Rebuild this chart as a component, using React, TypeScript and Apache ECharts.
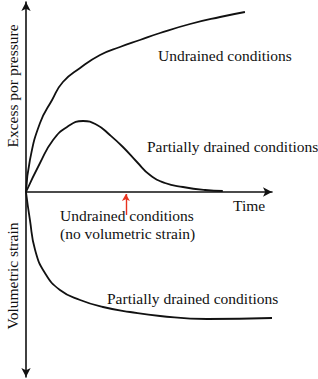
import React, { useEffect, useRef } from "react";
import * as echarts from "echarts";

// Time axis: 0..100 (arbitrary units); vertical axis: excess pore pressure (up) / volumetric strain (down)
const undrainedPressure: [number, number][] = [
  [0, 0], [1.6, 32], [5.7, 69], [10.6, 92], [15, 110], [22, 124], [30.1, 137],
  [38.2, 145], [46.3, 152], [54.5, 159], [66.7, 168], [78.9, 175], [89, 180],
];
const partialPressure: [number, number][] = [
  [0, 0], [5.7, 29], [11, 52], [16.7, 65], [23.2, 71], [28.9, 67], [34.1, 57],
  [39.4, 45], [45.1, 30], [50.4, 17], [56.5, 9], [63.8, 5], [72.8, 2], [80, 1],
];
const partialStrain: [number, number][] = [
  [0, 0], [1.6, -28], [3.7, -58], [7.7, -81], [13.8, -98], [22, -108], [31.3, -115],
  [42.3, -120], [54.5, -124], [73.6, -127], [100, -126],
];
const undrainedStrainMarker = { x: 40.6, from: -23, to: -2 };

const labels = {
  yUp: "Excess por pressure",
  yDown: "Volumetric strain",
  xName: "Time",
  undrainedTop: "Undrained conditions",
  partialTop: "Partially drained conditions",
  undrainedBottom1: "Undrained conditions",
  undrainedBottom2: "(no volumetric strain)",
  partialBottom: "Partially drained conditions",
};

const FONT = "15.5px 'Liberation Serif', 'Times New Roman', serif";

export default function App() {
  const ref = useRef<HTMLDivElement>(null);
  useEffect(() => {
    if (!ref.current) return;
    const chart = echarts.init(ref.current, undefined, { renderer: "svg" });
    const lineStyle = { color: "#111", width: 1.8 };
    const txt = (text: string, x: number, y: number, extra: any = {}) => ({
      type: "text",
      x,
      y,
      ...extra,
      style: { text, font: FONT, fill: "#111", textAlign: "left", textVerticalAlign: "middle", ...(extra.style || {}) },
    });
    chart.setOption({
      animation: false,
      grid: { left: 26, top: 2, width: 246, height: 375 },
      xAxis: {
        type: "value",
        min: 0,
        max: 100,
        axisLine: { show: true, onZero: true, symbol: ["none", "arrow"], symbolSize: [7, 9], lineStyle: { color: "#111", width: 1.6 } },
        axisTick: { show: false },
        axisLabel: { show: false },
        splitLine: { show: false },
      },
      yAxis: {
        type: "value",
        min: -185,
        max: 190,
        axisLine: { show: true, onZero: false, symbol: ["arrow", "arrow"], symbolSize: [7, 9], lineStyle: { color: "#111", width: 1.6 } },
        axisTick: { show: false },
        axisLabel: { show: false },
        splitLine: { show: false },
      },
      series: [
        { type: "line", data: undrainedPressure, smooth: 0.5, showSymbol: false, lineStyle },
        { type: "line", data: partialPressure, smooth: 0.5, showSymbol: false, lineStyle },
        {
          type: "line",
          data: partialStrain,
          smooth: 0.5,
          showSymbol: false,
          lineStyle,
          markLine: {
            silent: true,
            symbol: ["none", "arrow"],
            symbolSize: [6, 7],
            label: { show: false },
            lineStyle: { color: "#e8321e", width: 1.4, type: "solid" },
            data: [[
              { coord: [undrainedStrainMarker.x, undrainedStrainMarker.from] },
              { coord: [undrainedStrainMarker.x, undrainedStrainMarker.to] },
            ]],
          },
        },
      ],
      graphic: [
        txt(labels.undrainedTop, 158, 55),
        txt(labels.partialTop, 147, 146),
        txt(labels.xName, 233, 205),
        txt(labels.undrainedBottom1, 60, 215),
        txt(labels.undrainedBottom2, 60, 233),
        txt(labels.partialBottom, 107, 298),
        txt(labels.yUp, 12, 86, { rotation: Math.PI / 2, style: { textAlign: "center" } }),
        txt(labels.yDown, 12, 276, { rotation: Math.PI / 2, style: { textAlign: "center" } }),
      ],
    });
    return () => chart.dispose();
  }, []);
  return <div ref={ref} style={{ position: "fixed", left: 0, top: 0, width: 318, height: 379, background: "#fff" }} />;
}
